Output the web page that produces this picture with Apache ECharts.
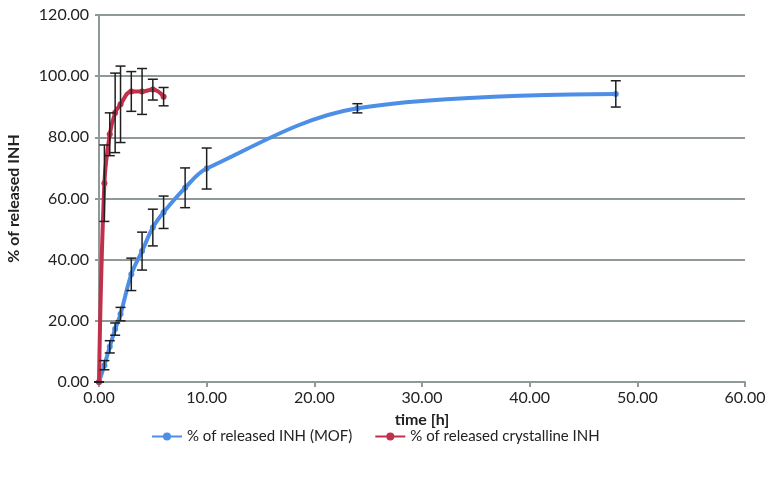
<!DOCTYPE html>
<html>
<head>
<meta charset="utf-8">
<script src="https://cdn.jsdelivr.net/npm/echarts@6/dist/echarts.min.js"></script>
<style>
  html, body { margin: 0; padding: 0; background: #fff; }
  #chart { width: 776px; height: 477px; }
</style>
</head>
<body>
<div id="chart"></div>
<script>
// release of INH from the MOF
const mofTime = [0, 0.5, 1, 1.5, 2, 3, 4, 5, 6, 8, 10, 24, 48];
const mofRelease = [0, 5.5, 11.5, 17.3, 22.2, 35.2, 42.8, 50.5, 55.5, 63.5, 69.8, 89.5, 94.2];
const mofError = [0, 1.5, 2, 2, 2.2, 5.3, 6.2, 6, 5.3, 6.5, 6.7, 1.5, 4.3];

// release of crystalline INH
const crysTime = [0, 0.5, 1, 1.5, 2, 3, 4, 5, 6];
const crysRelease = [0, 65, 81, 88, 90.8, 95, 95, 95.6, 93.3];
const crysError = [0, 12.5, 7, 13, 12.5, 6.5, 7.5, 3.4, 3];

const mofName = "% of released INH (MOF)";
const crysName = "% of released crystalline INH";
const fontFamily = "Lato, 'Open Sans', sans-serif";

const pairs = (xs, ys) => xs.map((x, i) => [x, ys[i]]);
const bars = (xs, ys, es) => xs.map((x, i) => [x, ys[i] - es[i], ys[i] + es[i]]);

function renderErrorBar(params, api) {
  const top = api.coord([api.value(0), api.value(2)]);
  const bottom = api.coord([api.value(0), api.value(1)]);
  const half = 5;
  const style = { stroke: "#1f1f1f", lineWidth: 1.5 };
  return {
    type: "group",
    children: [
      { type: "line", shape: { x1: top[0], y1: top[1], x2: bottom[0], y2: bottom[1] }, style },
      { type: "line", shape: { x1: top[0] - half, y1: top[1], x2: top[0] + half, y2: top[1] }, style },
      { type: "line", shape: { x1: bottom[0] - half, y1: bottom[1], x2: bottom[0] + half, y2: bottom[1] }, style },
    ],
  };
}

const chart = echarts.init(document.getElementById("chart"));

chart.setOption({
  animation: false,
  color: ["#4d8fe6", "#c1304b"],
  textStyle: { fontFamily },
  grid: { left: 99, right: 31, top: 15, bottom: 95, outerBoundsMode: "none", containLabel: false },
  legend: {
    data: [mofName, crysName],
    bottom: 28,
    left: 146,
    itemWidth: 30,
    itemHeight: 10,
    itemGap: 22,
    textStyle: { color: "#222", fontSize: 15, fontFamily },
  },
  xAxis: {
    type: "value",
    min: 0,
    max: 60,
    interval: 10,
    name: "time [h]",
    nameLocation: "middle",
    nameGap: 30,
    nameTextStyle: { color: "#222", fontSize: 16, fontWeight: "bold", fontFamily },
    axisLine: { lineStyle: { color: "#8f9999", width: 2 } },
    axisTick: { show: true, length: 5, lineStyle: { color: "#8f9999", width: 2 } },
    axisLabel: { color: "#222", fontSize: 16, margin: 8, formatter: (v) => v.toFixed(2) },
    splitLine: { show: false },
  },
  yAxis: {
    type: "value",
    min: 0,
    max: 120,
    interval: 20,
    name: "% of released INH",
    nameLocation: "middle",
    nameGap: 77,
    nameTextStyle: { color: "#222", fontSize: 16, fontWeight: "bold", fontFamily },
    axisLine: { show: true, lineStyle: { color: "#8f9999", width: 2 } },
    axisTick: { show: true, length: 4, lineStyle: { color: "#8f9999", width: 2 } },
    axisLabel: { color: "#222", fontSize: 16, margin: 10, formatter: (v) => v.toFixed(2) },
    splitLine: { show: true, lineStyle: { color: "#8f9999", width: 2 } },
  },
  series: [
    {
      name: mofName,
      type: "line",
      data: pairs(mofTime, mofRelease),
      smooth: 0.35,
      symbol: "circle",
      symbolSize: 6,
      lineStyle: { width: 4 },
      z: 2,
    },
    {
      name: crysName,
      type: "line",
      data: pairs(crysTime, crysRelease),
      smooth: 0.4,
      symbol: "circle",
      symbolSize: 6,
      lineStyle: { width: 4 },
      z: 3,
    },
    {
      name: "mofError",
      type: "custom",
      renderItem: renderErrorBar,
      data: bars(mofTime, mofRelease, mofError),
      encode: { x: 0, y: [1, 2] },
      z: 4,
      silent: true,
    },
    {
      name: "crysError",
      type: "custom",
      renderItem: renderErrorBar,
      data: bars(crysTime, crysRelease, crysError),
      encode: { x: 0, y: [1, 2] },
      z: 4,
      silent: true,
    },
  ],
});
</script>
</body>
</html>
